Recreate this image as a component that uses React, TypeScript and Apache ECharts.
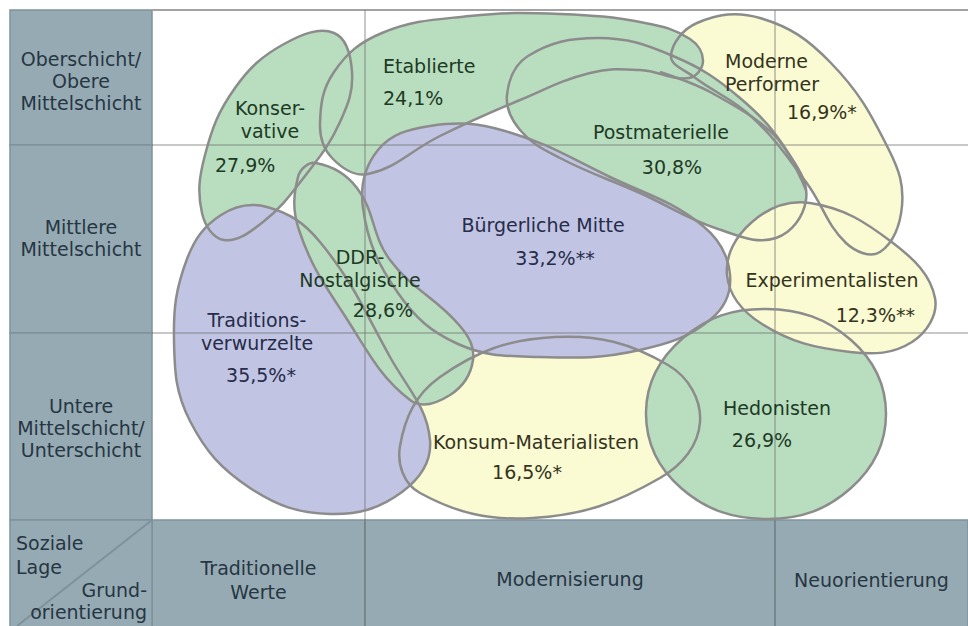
import React, { useEffect, useRef } from 'react';
import * as echarts from 'echarts';

// ---- values ----
const rowLabels = ['Oberschicht/\nObere\nMittelschicht', 'Mittlere\nMittelschicht', 'Untere\nMittelschicht/\nUnterschicht'];
const columnLabels = ['Traditionelle\nWerte', 'Modernisierung', 'Neuorientierung'];
const cornerTop = ['Soziale', 'Lage'];
const cornerBottom = ['Grund-', 'orientierung'];

// listed in drawing order (back to front)
const milieuNames = [
  ['Moderne', 'Performer'],
  ['Konser-', 'vative'],
  ['Etablierte'],
  ['Postmaterielle'],
  ['Konsum-Materialisten'],
  ['Hedonisten'],
  ['Bürgerliche Mitte'],
  ['Experimentalisten'],
  ['Traditions-', 'verwurzelte'],
  ['DDR-', 'Nostalgische'],
];
const milieuShares = [16.9, 27.9, 24.1, 30.8, 16.5, 26.9, 33.2, 12.3, 35.5, 28.6];
const milieuMarks = ['*', '', '', '', '*', '', '**', '**', '*', ''];

// ---- layout (sheet coordinates: x right, y down) ----
const PANEL_LEFT = 10;
const rowBounds = [10, 145, 333, 520];
const colBounds = [152, 365, 775, 968];
const SHEET_BOTTOM = 626;
const rowLabelY = [81, 238, 428];
const columnLabelY = [580, 579, 580];

const outlines: number[][][] = [
  // Moderne Performer
  [[671, 56], [697, 23], [760, 18], [830, 62], [889, 150], [902, 206], [880, 252], [846, 243], [806, 182], [752, 117], [694, 77]],
  // Konservative
  [[334, 33], [352, 72], [340, 122], [305, 176], [263, 222], [224, 240], [202, 213], [205, 155], [235, 88], [284, 44]],
  // Etablierte
  [[320, 124], [334, 72], [382, 33], [470, 16], [560, 14], [645, 23], [690, 39], [703, 61], [689, 78], [640, 70], [590, 73], [520, 100], [440, 136], [368, 174], [332, 158]],
  // Postmaterielle
  [[507, 95], [528, 56], [598, 38], [673, 56], [740, 98], [789, 154], [806, 200], [776, 238], [718, 229], [640, 193], [560, 158], [520, 130]],
  // Konsum-Materialisten
  [[400, 446], [440, 377], [555, 337], [668, 365], [700, 422], [660, 478], [533, 518], [420, 493]],
  // Hedonisten
  [[886, 414], [851, 488], [768, 519], [681, 488], [646, 412], [683, 338], [766, 309], [851, 340]],
  // Bürgerliche Mitte
  [[363, 208], [378, 150], [430, 126], [505, 131], [610, 177], [703, 226], [730, 275], [711, 319], [640, 350], [540, 357], [458, 344], [398, 293]],
  // Experimentalisten
  [[727, 275], [752, 222], [810, 203], [893, 243], [935, 298], [912, 342], [850, 352], [762, 324]],
  // Traditionsverwurzelte
  [[267, 207], [320, 242], [390, 357], [430, 440], [402, 492], [330, 514], [250, 488], [190, 421], [174, 340], [187, 259], [221, 215]],
  // DDR-Nostalgische
  [[316, 163], [357, 188], [390, 260], [460, 326], [473, 360], [450, 395], [410, 400], [343, 313], [299, 230], [298, 177]],
];
// extra inner contour through the Postmaterielle band
const innerLines: number[][][] = [
  [[660, 72], [712, 93], [776, 137], [806, 190]],
];

// name anchor [x, y of first line, align], share anchor [x, y, align]
const nameAnchors: [number, number, string][] = [
  [725, 61, 'left'], [270, 108, 'center'], [383, 66, 'left'], [661, 132, 'center'], [536, 442, 'center'],
  [777, 408, 'center'], [543, 225, 'center'], [832, 280, 'center'], [257, 320, 'center'], [360, 257, 'center'],
];
const shareAnchors: [number, number, string][] = [
  [787, 112, 'left'], [215, 165, 'left'], [383, 98, 'left'], [672, 167, 'center'], [527, 472, 'center'],
  [762, 440, 'center'], [555, 258, 'center'], [915, 315, 'right'], [261, 375, 'center'], [383, 310, 'center'],
];
const NAME_LINE = 23;
const milieuTone = ['yellow', 'green', 'green', 'green', 'yellow', 'green', 'lavender', 'yellow', 'lavender', 'green'];

// ---- styles ----
const FILL: Record<string, string> = { green: '#b9ddbf', lavender: '#c1c5e3', yellow: '#fafad3' };
const INK: Record<string, string> = { green: '#1c3a24', lavender: '#262c4a', yellow: '#34341c' };
const HEADER = '#96aab4';
const HEADER_LINE = '#7e929c';
const HEADER_INK = '#263642';
const OUTLINE = '#8c8c8c';
const FONT = '"DejaVu Sans", Verdana, sans-serif';
const LABEL_SIZE = 19;
const HEADER_SIZE = 19;
const SMOOTH = 0.4;

function fmtShare(v: number, mark: string) {
  return v.toFixed(1).replace('.', ',') + '%' + mark;
}

export default function App() {
  const ref = useRef<HTMLDivElement>(null);
  useEffect(() => {
    const chart = echarts.init(ref.current!, null, { renderer: 'svg' });
    const idx = (arr: any[]) => arr.map((_, i) => [i, 0]);

    const option: any = {
      animation: false,
      grid: { left: 0, top: 0, right: 0, bottom: 0 },
      xAxis: { type: 'value', min: 0, max: 968, show: false },
      yAxis: { type: 'value', min: 0, max: 626, inverse: true, show: false },
      series: [
        // row headers
        {
          type: 'custom', z: 1, silent: true, data: idx(rowLabels),
          renderItem: (p: any, api: any) => {
            const i = p.dataIndex;
            const a = api.coord([PANEL_LEFT, rowBounds[i]]);
            const b = api.coord([colBounds[0], rowBounds[i + 1]]);
            const ly = api.coord([0, rowLabelY[i]])[1];
            return {
              type: 'group', children: [
                { type: 'rect', shape: { x: a[0], y: a[1], width: b[0] - a[0], height: b[1] - a[1] }, style: { fill: HEADER, stroke: HEADER_LINE, lineWidth: 1.5 } },
                { type: 'text', style: { text: rowLabels[i], x: (a[0] + b[0]) / 2, y: ly, align: 'center', verticalAlign: 'middle', fontSize: HEADER_SIZE, fontFamily: FONT, lineHeight: 22, fill: HEADER_INK } },
              ],
            };
          },
        },
        // column headers
        {
          type: 'custom', z: 1, silent: true, data: idx(columnLabels),
          renderItem: (p: any, api: any) => {
            const i = p.dataIndex;
            const a = api.coord([colBounds[i], rowBounds[3]]);
            const b = api.coord([colBounds[i + 1], SHEET_BOTTOM]);
            const ly = api.coord([0, columnLabelY[i]])[1];
            return {
              type: 'group', children: [
                { type: 'rect', shape: { x: a[0], y: a[1], width: b[0] - a[0], height: b[1] - a[1] + 4 }, style: { fill: HEADER, stroke: HEADER_LINE, lineWidth: 1.5 } },
                { type: 'text', style: { text: columnLabels[i], x: (a[0] + b[0]) / 2, y: ly, align: 'center', verticalAlign: 'middle', fontSize: HEADER_SIZE, fontFamily: FONT, lineHeight: 24, fill: HEADER_INK } },
              ],
            };
          },
        },
        // corner
        {
          type: 'custom', z: 1, silent: true, data: [[0, 0]],
          renderItem: (_p: any, api: any) => {
            const a = api.coord([PANEL_LEFT, rowBounds[3]]);
            const b = api.coord([colBounds[0], SHEET_BOTTOM]);
            const d0 = api.coord([17, SHEET_BOTTOM]);
            return {
              type: 'group', children: [
                { type: 'rect', shape: { x: a[0], y: a[1], width: b[0] - a[0], height: b[1] - a[1] + 4 }, style: { fill: HEADER, stroke: HEADER_LINE, lineWidth: 1.5 } },
                { type: 'line', shape: { x1: b[0], y1: a[1], x2: d0[0], y2: d0[1] }, style: { stroke: HEADER_LINE, lineWidth: 2 } },
                { type: 'text', style: { text: cornerTop.join('\n'), x: a[0] + 6, y: a[1] + 35, align: 'left', verticalAlign: 'middle', fontSize: HEADER_SIZE, fontFamily: FONT, lineHeight: 24, fill: HEADER_INK } },
                { type: 'text', style: { text: cornerBottom.join('\n'), x: b[0] - 5, y: a[1] + 81, align: 'right', verticalAlign: 'middle', fontSize: HEADER_SIZE, fontFamily: FONT, lineHeight: 22, fill: HEADER_INK } },
              ],
            };
          },
        },
        // milieu fills
        {
          type: 'custom', z: 2, silent: true, data: idx(milieuNames),
          renderItem: (p: any, api: any) => {
            const i = p.dataIndex;
            return { type: 'polygon', shape: { points: outlines[i].map((q) => api.coord(q)), smooth: SMOOTH }, style: { fill: FILL[milieuTone[i]], stroke: null } };
          },
        },
        // grid lines
        {
          type: 'custom', z: 3, silent: true, data: [[0, 0]],
          renderItem: (_p: any, api: any) => {
            const kids: any[] = [];
            const top = api.coord([colBounds[0], rowBounds[0]]);
            const right = api.coord([colBounds[3], rowBounds[0]]);
            kids.push({ type: 'line', shape: { x1: top[0], y1: top[1], x2: right[0], y2: right[1] }, style: { stroke: '#a3a3a3', lineWidth: 2 } });
            [1, 2].forEach((r) => {
              const a = api.coord([colBounds[0], rowBounds[r]]);
              const b = api.coord([colBounds[3], rowBounds[r]]);
              kids.push({ type: 'line', shape: { x1: a[0], y1: a[1], x2: b[0], y2: b[1] }, style: { stroke: 'rgba(110,110,110,0.5)', lineWidth: 1.5 } });
            });
            [1, 2].forEach((c) => {
              const a = api.coord([colBounds[c], rowBounds[0]]);
              const b = api.coord([colBounds[c], SHEET_BOTTOM]);
              kids.push({ type: 'line', shape: { x1: a[0], y1: a[1], x2: b[0], y2: b[1] }, style: { stroke: 'rgba(110,110,110,0.5)', lineWidth: 1.5 } });
            });
            return { type: 'group', children: kids };
          },
        },
        // milieu outlines
        {
          type: 'custom', z: 4, silent: true, data: idx(milieuNames),
          renderItem: (p: any, api: any) => {
            const i = p.dataIndex;
            const kids: any[] = [
              { type: 'polygon', shape: { points: outlines[i].map((q) => api.coord(q)), smooth: SMOOTH }, style: { fill: null, stroke: OUTLINE, lineWidth: 2.5 } },
            ];
            if (i === 3) {
              innerLines.forEach((ln) => kids.push({ type: 'polyline', shape: { points: ln.map((q) => api.coord(q)), smooth: 0.35 }, style: { fill: null, stroke: OUTLINE, lineWidth: 2.5 } }));
            }
            return { type: 'group', children: kids };
          },
        },
        // milieu labels
        {
          type: 'custom', z: 5, silent: true, data: idx(milieuNames),
          renderItem: (p: any, api: any) => {
            const i = p.dataIndex;
            const ink = INK[milieuTone[i]];
            const kids: any[] = milieuNames[i].map((line, k) => {
              const pt = api.coord([nameAnchors[i][0], nameAnchors[i][1] + k * NAME_LINE]);
              return { type: 'text', style: { text: line, x: pt[0], y: pt[1], align: nameAnchors[i][2], verticalAlign: 'middle', fontSize: LABEL_SIZE, fontFamily: FONT, fill: ink } };
            });
            const sp = api.coord([shareAnchors[i][0], shareAnchors[i][1]]);
            kids.push({ type: 'text', style: { text: fmtShare(milieuShares[i], milieuMarks[i]), x: sp[0], y: sp[1], align: shareAnchors[i][2], verticalAlign: 'middle', fontSize: LABEL_SIZE, fontFamily: FONT, fill: ink } });
            return { type: 'group', children: kids };
          },
        },
      ],
    };
    chart.setOption(option);
    return () => chart.dispose();
  }, []);
  return <div ref={ref} style={{ position: 'fixed', left: 0, top: 0, width: 968, height: 626, background: '#ffffff' }} />;
}
